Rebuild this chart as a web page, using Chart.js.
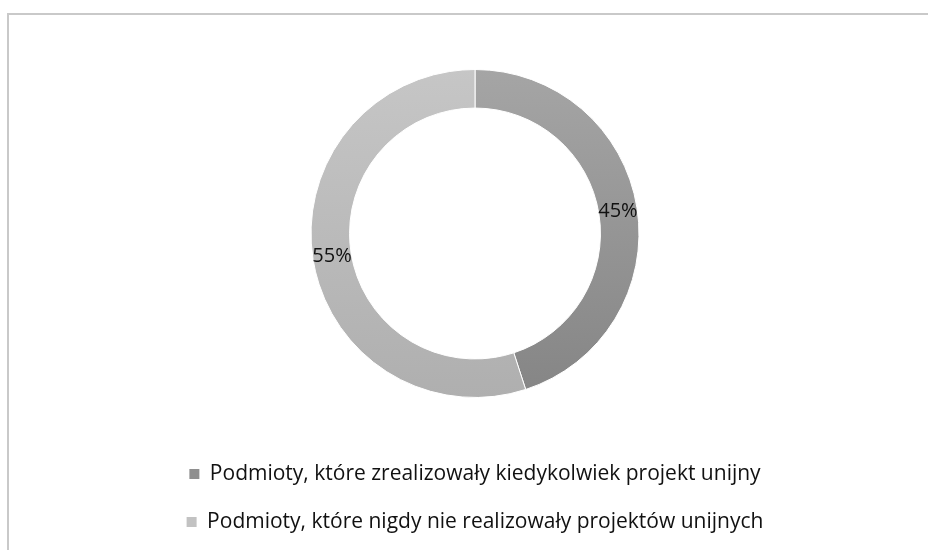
<!DOCTYPE html>
<html>
<head>
<meta charset="utf-8">
<script src="https://cdn.jsdelivr.net/npm/chart.js@4"></script>
<style>
  html, body { margin: 0; padding: 0; background: #fff; }
  body { width: 928px; height: 550px; position: relative; overflow: hidden; }
  #frame {
    position: absolute; left: 7px; top: 13px; width: 960px; height: 600px;
    border-left: 2px solid #c9c9c9; border-top: 2px solid #c9c9c9;
  }
  #wrap { position: absolute; left: 0; top: 0; width: 928px; height: 550px; }
</style>
</head>
<body>
<div id="frame"></div>
<div id="wrap"><canvas id="donut"></canvas></div>
<script>
const categories = [
  'Podmioty, które zrealizowały kiedykolwiek projekt unijny',
  'Podmioty, które nigdy nie realizowały projektów unijnych'
];
const shares = [45, 55];
const sliceTop = ['#a5a5a5', '#c6c6c6'];
const sliceBottom = ['#858585', '#afafaf'];
const legendColors = ['#8f8f8f', '#c2c2c2'];

// etykiety procentowe na środku pierścienia
const sliceLabels = {
  id: 'sliceLabels',
  afterDatasetsDraw(chart) {
    const ctx = chart.ctx;
    const meta = chart.getDatasetMeta(0);
    ctx.save();
    ctx.font = '20px "Open Sans"';
    ctx.fillStyle = '#111';
    ctx.textAlign = 'center';
    ctx.textBaseline = 'middle';
    meta.data.forEach((arc, i) => {
      const p = arc.tooltipPosition();
      ctx.fillText(shares[i] + '%', p.x, p.y);
    });
    ctx.restore();
  }
};

const shade = (c) => {
  const chart = c.chart;
  const area = chart.chartArea;
  if (!area) return sliceTop[c.dataIndex];
  const cy = (area.top + area.bottom) / 2;
  const g = chart.ctx.createLinearGradient(0, cy - 164, 0, cy + 164);
  g.addColorStop(0, sliceTop[c.dataIndex]);
  g.addColorStop(1, sliceBottom[c.dataIndex]);
  return g;
};

new Chart(document.getElementById('donut'), {
  type: 'doughnut',
  data: {
    labels: categories,
    datasets: [{
      data: shares,
      backgroundColor: shade,
      borderColor: '#ffffff',
      borderWidth: 1,
      radius: 164,
      cutout: '76.5%'
    }]
  },
  plugins: [sliceLabels],
  options: {
    responsive: true,
    maintainAspectRatio: false,
    animation: false,
    layout: { padding: { top: 30.5, left: 22, right: 0, bottom: 7.5 } },
    plugins: {
      tooltip: { enabled: false },
      legend: {
        position: 'bottom',
        labels: {
          boxWidth: 10,
          boxHeight: 10,
          padding: 27,
          color: '#111',
          font: { family: '"Open Sans"', size: 21 },
          generateLabels(chart) {
            const items = Chart.overrides.doughnut.plugins.legend.labels.generateLabels(chart);
            items.forEach((it, i) => {
              it.fillStyle = legendColors[i];
              it.strokeStyle = legendColors[i];
              it.lineWidth = 0;
            });
            return items;
          }
        }
      }
    }
  }
});
</script>
</body>
</html>
